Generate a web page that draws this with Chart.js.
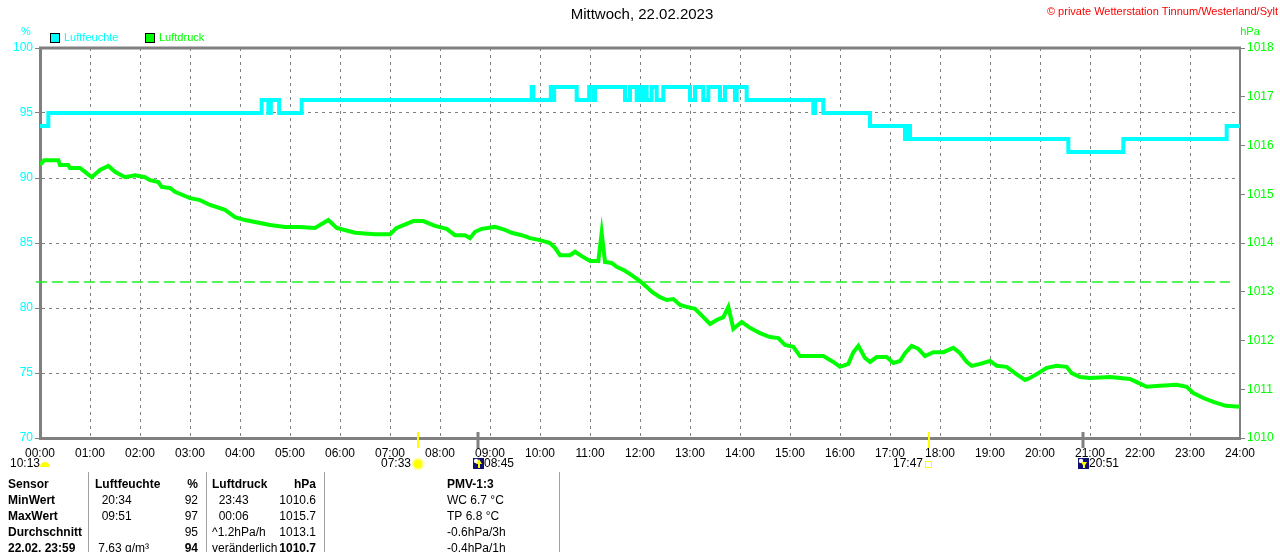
<!DOCTYPE html>
<html>
<head>
<meta charset="utf-8">
<script src="https://cdn.jsdelivr.net/npm/chart.js@4"></script>
<style>
  html, body { margin: 0; padding: 0; background: #fff; }
  canvas { display: block; }
</style>
</head>
<body>
<canvas id="chart" width="1280" height="552"></canvas>
<script>
// Luftfeuchte (%), Stufenwerte: Zeitpunkt des Wechsels -> neuer Wert
const feuchteZeit = ["00:00", "00:10", "04:26", "04:34", "04:37", "04:47", "05:14", "09:50", "09:52",
  "10:13", "10:16", "10:17", "10:44", "10:59", "11:04", "11:06", "11:42", "11:48", "11:56", "11:58",
  "12:02", "12:04", "12:08", "12:14", "12:20", "12:28", "13:00", "13:06", "13:16", "13:22", "13:36",
  "13:42", "13:54", "13:56", "14:08", "15:28", "15:30", "15:40", "16:36", "17:18", "17:20", "17:24",
  "20:34", "21:40", "23:44", "24:00"];
const feuchteWert = [94, 95, 96, 95, 96, 95, 96, 97, 96,
  97, 96, 97, 96, 97, 96, 97, 96, 97, 96, 97,
  96, 97, 96, 97, 96, 97, 96, 97, 96, 97, 96,
  97, 96, 97, 96, 95, 96, 95, 94, 93, 94, 93,
  92, 93, 94, 94];

// Luftdruck (hPa)
const druckZeit = ["00:00", "00:05", "00:12", "00:22", "00:24", "00:34", "00:36", "00:48", "00:54", "01:02",
  "01:12", "01:22", "01:30", "01:42", "01:54", "02:06", "02:12", "02:22", "02:26", "02:36",
  "02:42", "03:00", "03:12", "03:24", "03:42", "03:54", "04:06", "04:24", "04:36", "04:54",
  "05:12", "05:30", "05:46", "05:56", "06:18", "06:42", "07:00", "07:08", "07:28", "07:40",
  "07:54", "08:08", "08:18", "08:30", "08:36", "08:42", "08:50", "09:06", "09:18", "09:26",
  "09:38", "09:48", "10:00", "10:12", "10:18", "10:24", "10:36", "10:42", "10:50", "11:00",
  "11:10", "11:14", "11:18", "11:26", "11:32", "11:42", "11:50", "12:00", "12:08", "12:14",
  "12:24", "12:32", "12:40", "12:48", "12:56", "13:06", "13:16", "13:24", "13:32", "13:40",
  "13:46", "13:52", "14:02", "14:12", "14:24", "14:36", "14:46", "14:54", "15:04", "15:12",
  "15:28", "15:40", "15:52", "16:00", "16:10", "16:16", "16:22", "16:30", "16:36", "16:44",
  "16:56", "17:04", "17:12", "17:18", "17:26", "17:34", "17:42", "17:52", "18:04", "18:16",
  "18:24", "18:32", "18:38", "18:48", "19:00", "19:08", "19:20", "19:30", "19:42", "19:48",
  "19:58", "20:08", "20:20", "20:32", "20:38", "20:48", "21:00", "21:24", "21:48", "21:58",
  "22:08", "22:24", "22:44", "22:56", "23:04", "23:16", "23:28", "23:43", "24:00"];
const druckWert = [1015.60, 1015.70, 1015.70, 1015.70, 1015.60, 1015.60, 1015.54, 1015.54, 1015.46, 1015.35,
  1015.50, 1015.58, 1015.46, 1015.35, 1015.39, 1015.35, 1015.29, 1015.25, 1015.15, 1015.13,
  1015.05, 1014.92, 1014.88, 1014.78, 1014.68, 1014.53, 1014.47, 1014.41, 1014.37, 1014.33,
  1014.33, 1014.31, 1014.47, 1014.31, 1014.21, 1014.18, 1014.18, 1014.31, 1014.45, 1014.45,
  1014.35, 1014.29, 1014.16, 1014.16, 1014.10, 1014.23, 1014.29, 1014.33, 1014.27, 1014.21,
  1014.16, 1014.10, 1014.06, 1014.00, 1013.90, 1013.75, 1013.75, 1013.82, 1013.73, 1013.63,
  1013.63, 1014.21, 1013.61, 1013.59, 1013.51, 1013.43, 1013.34, 1013.22, 1013.10, 1013.00,
  1012.89, 1012.83, 1012.85, 1012.73, 1012.69, 1012.65, 1012.48, 1012.34, 1012.42, 1012.48,
  1012.69, 1012.24, 1012.38, 1012.26, 1012.15, 1012.07, 1012.05, 1011.91, 1011.87, 1011.68,
  1011.68, 1011.68, 1011.56, 1011.46, 1011.52, 1011.76, 1011.89, 1011.64, 1011.56, 1011.66,
  1011.66, 1011.54, 1011.58, 1011.74, 1011.89, 1011.83, 1011.68, 1011.76, 1011.76, 1011.85,
  1011.74, 1011.56, 1011.48, 1011.52, 1011.58, 1011.48, 1011.46, 1011.33, 1011.19, 1011.23,
  1011.33, 1011.44, 1011.48, 1011.46, 1011.33, 1011.25, 1011.23, 1011.25, 1011.21, 1011.13,
  1011.05, 1011.07, 1011.09, 1011.05, 1010.92, 1010.82, 1010.74, 1010.66, 1010.64];

// Mittelwert Luftdruck (gestrichelte Linie)
const druckMittelZeit = ["-00:05", "23:48"];
const druckMittel = 1013.2;

// Achsen
const feuchteTicks = [70, 75, 80, 85, 90, 95, 100];
const druckTicks = [1010, 1011, 1012, 1013, 1014, 1015, 1016, 1017, 1018];
const stunden = ["00:00", "01:00", "02:00", "03:00", "04:00", "05:00", "06:00", "07:00", "08:00",
  "09:00", "10:00", "11:00", "12:00", "13:00", "14:00", "15:00", "16:00", "17:00", "18:00",
  "19:00", "20:00", "21:00", "22:00", "23:00", "24:00"];

// Sonne / Mond
const tageslaenge = "10:13";
const ereignisZeit = ["07:33", "08:45", "17:47", "20:51"];
const ereignisArt = ["sonnenaufgang", "mondaufgang", "sonnenuntergang", "monduntergang"];

// Tabelle unten
const tabelleZeilen = [
  ["Sensor", "Luftfeuchte", "%", "Luftdruck", "hPa", "PMV-1:3"],
  ["MinWert", "  20:34", "92", "  23:43", "1010.6", "WC 6.7 °C"],
  ["MaxWert", "  09:51", "97", "  00:06", "1015.7", "TP 6.8 °C"],
  ["Durchschnitt", "", "95", "^1.2hPa/h", "1013.1", "-0.6hPa/3h"],
  ["22.02. 23:59", " 7.63 g/m³", "94", "veränderlich", "1010.7", "-0.4hPa/1h"]
];

const titel = "Mittwoch, 22.02.2023";
const copyright = "© private Wetterstation Tinnum/Westerland/Sylt";

const FONT = "'Liberation Sans', Arial, sans-serif";
const CYAN = "#00ffff";
const GRUEN = "#00ff00";
const GRAU = "#808080";

function stunde(s) {
  const neg = s.startsWith("-");
  const [a, b] = s.replace("-", "").split(":");
  const v = Number(a) + Number(b) / 60;
  return neg ? -v : v;
}

// Rahmen, Beschriftungen, Legende, Sonne/Mond und Tabelle
const extras = {
  id: "extras",
  afterDraw(chart) {
    const ctx = chart.ctx;
    const a = chart.chartArea;
    const x = chart.scales.x;

    ctx.save();
    // Rahmen oben
    ctx.strokeStyle = GRAU;
    ctx.lineWidth = 3;
    ctx.beginPath();
    ctx.moveTo(a.left - 1, a.top);
    ctx.lineTo(a.right + 1, a.top);
    ctx.stroke();

    // Titel und Copyright
    ctx.fillStyle = "#000";
    ctx.font = "15px " + FONT;
    ctx.textAlign = "center";
    ctx.textBaseline = "middle";
    ctx.fillText(titel, 642, 15);
    ctx.fillStyle = "#ff0000";
    ctx.font = "11px " + FONT;
    ctx.textAlign = "right";
    ctx.fillText(copyright, 1278, 12);

    // Einheiten
    ctx.font = "11px " + FONT;
    ctx.textAlign = "center";
    ctx.fillStyle = CYAN;
    ctx.fillText("%", 26, 32);
    ctx.fillStyle = GRUEN;
    ctx.fillText("hPa", 1250, 32);

    // Legende
    const legende = [["Luftfeuchte", CYAN, 50], ["Luftdruck", GRUEN, 145]];
    ctx.textAlign = "left";
    legende.forEach(([name, farbe, lx]) => {
      ctx.fillStyle = farbe;
      ctx.fillRect(lx, 33, 10, 10);
      ctx.strokeStyle = "#000";
      ctx.lineWidth = 1;
      ctx.strokeRect(lx + 0.5, 33.5, 9, 9);
      ctx.fillStyle = farbe;
      ctx.fillText(name, lx + 14, 38);
    });

    // Sonne / Mond Markierungen
    ctx.font = "12px " + FONT;
    ctx.textBaseline = "middle";
    const ty = 464;
    ctx.fillStyle = "#000";
    ctx.textAlign = "left";
    ctx.fillText(tageslaenge, 10, ty);
    ctx.fillStyle = "#ffff00";
    ctx.beginPath();
    ctx.arc(45, ty + 3, 5, Math.PI, 0);
    ctx.closePath();
    ctx.fill();

    ereignisZeit.forEach((t, i) => {
      const px = Math.round(x.getPixelForValue(stunde(t)));
      const art = ereignisArt[i];
      const sonne = art.startsWith("sonne");
      ctx.strokeStyle = sonne ? "#ffff00" : GRAU;
      ctx.lineWidth = sonne ? 2 : 3;
      ctx.beginPath();
      ctx.moveTo(px, 432);
      ctx.lineTo(px, 448);
      ctx.stroke();

      if (art === "sonnenaufgang") {
        ctx.fillStyle = "#ffffb0";
        ctx.beginPath();
        ctx.arc(px, ty, 6.5, 0, Math.PI * 2);
        ctx.fill();
        ctx.fillStyle = "#ffff00";
        ctx.beginPath();
        ctx.arc(px, ty, 4.5, 0, Math.PI * 2);
        ctx.fill();
        ctx.fillStyle = "#000";
        ctx.textAlign = "right";
        ctx.fillText(t, px - 7, ty);
      } else if (art === "sonnenuntergang") {
        ctx.strokeStyle = "#ffff00";
        ctx.lineWidth = 1;
        ctx.strokeRect(px - 3.5, ty - 2.5, 6, 6);
        ctx.fillStyle = "#000";
        ctx.textAlign = "right";
        ctx.fillText(t, px - 6, ty);
      } else {
        ctx.fillStyle = "#101070";
        ctx.fillRect(px - 5, ty - 6, 11, 11);
        ctx.fillStyle = "#ffffff";
        ctx.beginPath();
        ctx.arc(px - 2, ty - 3, 2.2, 0, Math.PI * 2);
        ctx.fill();
        ctx.fillStyle = "#ffff00";
        ctx.beginPath();
        if (art === "mondaufgang") {
          ctx.moveTo(px + 1, ty - 5);
          ctx.lineTo(px + 4, ty);
          ctx.lineTo(px - 2, ty);
        } else {
          ctx.moveTo(px + 1, ty + 3);
          ctx.lineTo(px + 4, ty - 2);
          ctx.lineTo(px - 2, ty - 2);
        }
        ctx.closePath();
        ctx.fill();
        ctx.fillRect(px, ty - 1, 2, 5);
        ctx.fillStyle = "#000";
        ctx.textAlign = "left";
        ctx.fillText(t, px + 6, ty);
      }
    });

    // Tabelle
    ctx.strokeStyle = "#a0a0a0";
    ctx.lineWidth = 1;
    [88, 206, 324, 559].forEach((sx) => {
      ctx.beginPath();
      ctx.moveTo(sx + 0.5, 472);
      ctx.lineTo(sx + 0.5, 552);
      ctx.stroke();
    });
    ctx.fillStyle = "#000";
    tabelleZeilen.forEach((z, r) => {
      const y = 485 + r * 15.8;
      const fett = (c) => r === 0 || c === 0 || (r === 4 && (c === 2 || c === 4));
      const spalten = [[8, "left"], [95, "left"], [198, "right"], [212, "left"], [316, "right"], [447, "left"]];
      z.forEach((txt, c) => {
        ctx.font = (fett(c) ? "bold " : "") + "12px " + FONT;
        ctx.textAlign = spalten[c][1];
        ctx.fillText(txt, spalten[c][0], y);
      });
    });
    ctx.restore();
  }
};

const ctx = document.getElementById("chart");
const grafico = new Chart(ctx, {
  type: "line",
  data: {
    datasets: [
      {
        label: "Luftfeuchte",
        data: feuchteZeit.map((t, i) => ({ x: stunde(t), y: feuchteWert[i] })),
        borderColor: CYAN,
        borderWidth: 4,
        stepped: true,
        pointRadius: 0,
        yAxisID: "y",
      },
      {
        label: "Luftdruck",
        data: druckZeit.map((t, i) => ({ x: stunde(t), y: druckWert[i] })),
        borderColor: GRUEN,
        borderWidth: 4,
        pointRadius: 0,
        tension: 0,
        yAxisID: "y1",
      },
      {
        label: "Mittel",
        data: druckMittelZeit.map((t) => ({ x: stunde(t), y: druckMittel })),
        borderColor: "#20ee20",
        borderWidth: 1.5,
        borderDash: [11, 5],
        pointRadius: 0,
        clip: false,
        yAxisID: "y1",
      },
    ],
  },
  options: {
    responsive: false,
    animation: false,
    devicePixelRatio: 1,
    layout: { padding: { top: 48, left: 0, right: 0 } },
    plugins: { legend: { display: false }, tooltip: { enabled: false } },
    scales: {
      x: {
        type: "linear",
        min: 0,
        max: 24,
        afterFit: (s) => { s.height = 114; },
        afterBuildTicks: (s) => { s.ticks = stunden.map((t) => ({ value: stunde(t) })); },
        ticks: {
          callback: (v, i) => stunden[i],
          color: "#000",
          font: { family: FONT, size: 12 },
          padding: 8,
          maxRotation: 0,
          autoSkip: false,
        },
        grid: { color: GRAU, lineWidth: 1, drawTicks: false, borderDash: [3, 4] },
        border: { display: true, color: GRAU, width: 3, dash: [3, 4] },
      },
      y: {
        position: "left",
        min: 70,
        max: 100,
        afterFit: (s) => { s.width = 40; },
        afterBuildTicks: (s) => { s.ticks = feuchteTicks.map((v) => ({ value: v })); },
        ticks: { color: CYAN, font: { family: FONT, size: 12 }, padding: 2, callback: (v) => String(v) },
        grid: { color: GRAU, lineWidth: 1, tickLength: 5, tickColor: GRAU, tickBorderDash: [] },
        border: { display: true, color: GRAU, width: 3, dash: [3, 4] },
      },
      y1: {
        position: "right",
        min: 1010,
        max: 1018,
        afterFit: (s) => { s.width = 40; },
        afterBuildTicks: (s) => { s.ticks = druckTicks.map((v) => ({ value: v })); },
        ticks: { color: GRUEN, font: { family: FONT, size: 12 }, padding: 2, callback: (v) => String(v) },
        grid: { drawOnChartArea: false, tickLength: 5, tickColor: GRAU },
        border: { display: true, color: GRAU, width: 2 },
      },
    },
  },
  plugins: [extras],
});
</script>
</body>
</html>
